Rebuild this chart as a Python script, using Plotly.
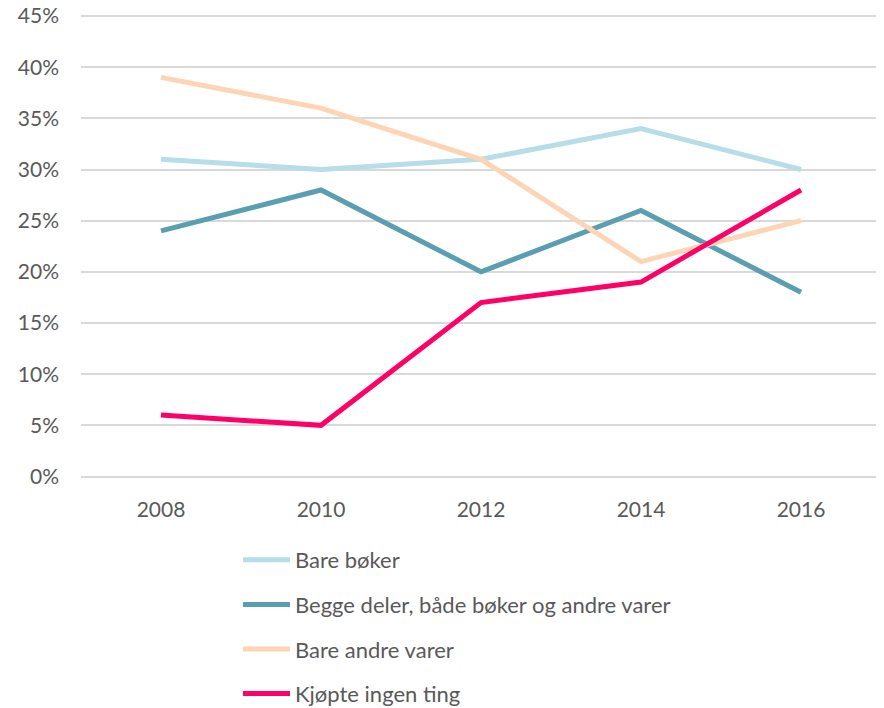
import plotly.graph_objects as go

years = ["2008", "2010", "2012", "2014", "2016"]
bare_boker = [0.31, 0.30, 0.31, 0.34, 0.30]
begge = [0.24, 0.28, 0.20, 0.26, 0.18]
bare_andre = [0.39, 0.36, 0.31, 0.21, 0.25]
ingen = [0.06, 0.05, 0.17, 0.19, 0.28]

names = ["Bare bøker", "Begge deler, både bøker og andre varer", "Bare andre varer", "Kjøpte ingen ting"]
colors = ["#B7DDE8", "#5A9EB1", "#FDD5B5", "#FF0066"]
series = [bare_boker, begge, bare_andre, ingen]

fig = go.Figure()
for i, (n, c, s) in enumerate(zip(names, colors, series)):
    fig.add_trace(go.Scatter(x=years, y=s, name=n, mode="lines",
                             line=dict(color=c, width=5),
                             legendgroup=str(i)))

font = "Lato, 'Open Sans', sans-serif"
# page body has an 8px default margin; figure is a bit taller than the
# window so the legend never pushes the plot margins
W, H = 876, 730
pad = 2                      # px of padding so edge gridlines are kept
top, bottom_plot = 8 - pad, 468.5 + pad
left, right = 73, 873
paper_h = H - top
paper_w = right - left
eps = 0.45 / 460.5 * pad
fig.update_layout(
    width=W, height=H,
    margin=dict(l=left, r=W - right, t=top, b=0),
    plot_bgcolor="white", paper_bgcolor="white",
    font=dict(family=font, size=21, color="#595959"),
    xaxis=dict(type="category", range=[-0.5, 4.5], showgrid=False,
               showline=False, zeroline=False, automargin=False,
               ticks="", ticklabelstandoff=16, anchor="y",
               tickfont=dict(size=21, color="#595959")),
    yaxis=dict(range=[-eps, 0.45 + eps], tick0=0, dtick=0.05, tickformat=".0%",
               domain=[(H - bottom_plot) / paper_h, 1],
               showgrid=True, gridcolor="#D9D9D9", gridwidth=1.5,
               zeroline=False, showline=False, ticks="", automargin=False,
               ticklabeloverflow="allow",
               ticklabelstandoff=21, tickfont=dict(size=21, color="#595959")),
    legend=dict(orientation="v",
                x=(230 - left) / paper_w, xanchor="left",
                y=(H - 531) / paper_h, yanchor="top",
                font=dict(size=22, color="#595959"), tracegroupgap=13,
                itemwidth=47, bgcolor="rgba(0,0,0,0)"),
    showlegend=True,
)
fig.write_html("out.html")
